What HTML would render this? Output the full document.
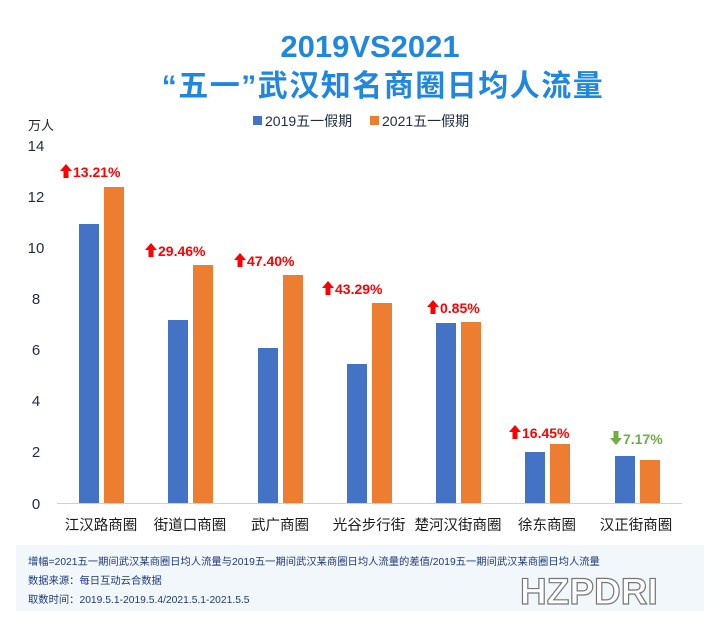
<!DOCTYPE html>
<html><head><meta charset="utf-8"><style>
body{margin:0;background:#fff;}
svg text{font-family:"Liberation Sans","Noto Sans CJK SC",sans-serif;}
</style></head><body>
<svg width="720" height="624" viewBox="0 0 720 624" xmlns="http://www.w3.org/2000/svg">
<rect width="720" height="624" fill="#fff"/>
<text x="370" y="57" text-anchor="middle" font-size="31" font-weight="bold" fill="#1f87e0">2019VS2021</text>
<text x="383" y="96" text-anchor="middle" font-size="30" font-weight="bold" fill="#1f87e0" letter-spacing="1.5">“五一”武汉知名商圈日均人流量</text>
<text x="28" y="130" font-size="13" fill="#222">万人</text>
<rect x="253" y="116" width="9" height="9" fill="#4472c4"/>
<text x="265" y="126" font-size="14" fill="#1f2a44">2019五一假期</text>
<rect x="370" y="116" width="9" height="9" fill="#ed7d31"/>
<text x="382" y="126" font-size="14" fill="#1f2a44">2021五一假期</text>
<g font-size="15" fill="#1f2a44" text-anchor="middle">
<text x="36" y="151">14</text><text x="36" y="202">12</text><text x="36" y="253">10</text>
<text x="36" y="304">8</text><text x="36" y="355">6</text><text x="36" y="406">4</text>
<text x="36" y="457">2</text><text x="36" y="509">0</text>
</g>
<line x1="57" y1="503.5" x2="682" y2="503.5" stroke="#d0d0d0"/>
<g fill="#4472c4">
<rect x="79" y="224" width="20" height="279"/>
<rect x="168" y="320" width="20" height="183"/>
<rect x="258" y="348" width="20" height="155"/>
<rect x="347" y="364" width="20" height="139"/>
<rect x="436" y="323" width="20" height="180"/>
<rect x="525" y="452" width="20" height="51"/>
<rect x="615" y="456" width="20" height="47"/>
</g>
<g fill="#ed7d31">
<rect x="104" y="187" width="20" height="316"/>
<rect x="193" y="265" width="20" height="238"/>
<rect x="283" y="275" width="20" height="228"/>
<rect x="372" y="303" width="20" height="200"/>
<rect x="461" y="322" width="20" height="181"/>
<rect x="550" y="444" width="20" height="59"/>
<rect x="640" y="460" width="20" height="43"/>
</g>
<g font-size="14" font-weight="bold" fill="#ff0000">
<path d="M60 171 l6 -7 l6 7 h-3.5 v7 h-5 v-7z"/><text x="73" y="177">13.21%</text>
<path d="M145 250 l6 -7 l6 7 h-3.5 v7 h-5 v-7z"/><text x="158" y="256">29.46%</text>
<path d="M234 260 l6 -7 l6 7 h-3.5 v7 h-5 v-7z"/><text x="247" y="266">47.40%</text>
<path d="M322 288 l6 -7 l6 7 h-3.5 v7 h-5 v-7z"/><text x="335" y="294">43.29%</text>
<path d="M427 307 l6 -7 l6 7 h-3.5 v7 h-5 v-7z"/><text x="440" y="313">0.85%</text>
<path d="M509 432 l6 -7 l6 7 h-3.5 v7 h-5 v-7z"/><text x="522" y="438">16.45%</text>
<path d="M610 438 l6 7 l6 -7 h-3.5 v-7 h-5 v7z" fill="#70ad47"/><text x="623" y="444" fill="#70ad47">7.17%</text>
</g>
<g font-size="14.5" fill="#1a1a1a" text-anchor="middle">
<text x="101" y="530">江汉路商圈</text><text x="190" y="530">街道口商圈</text><text x="280" y="530">武广商圈</text>
<text x="369" y="530">光谷步行街</text><text x="458" y="530">楚河汉街商圈</text><text x="547" y="530">徐东商圈</text>
<text x="636" y="530">汉正街商圈</text>
</g>
<rect x="16" y="545" width="688" height="66" fill="#f2f7fc"/>
<g font-size="10.3" fill="#1f3a7a">
<text x="28" y="565">增幅=2021五一期间武汉某商圈日均人流量与2019五一期间武汉某商圈日均人流量的差值/2019五一期间武汉某商圈日均人流量</text>
<text x="28" y="584">数据来源：每日互动云合数据</text>
<text x="28" y="603">取数时间：2019.5.1-2019.5.4/2021.5.1-2021.5.5</text>
</g>
<text x="520" y="604" font-size="37" font-weight="bold" fill="#fff" stroke="#777" stroke-width="1.2">HZPDRI</text>
</svg>
</body></html>
